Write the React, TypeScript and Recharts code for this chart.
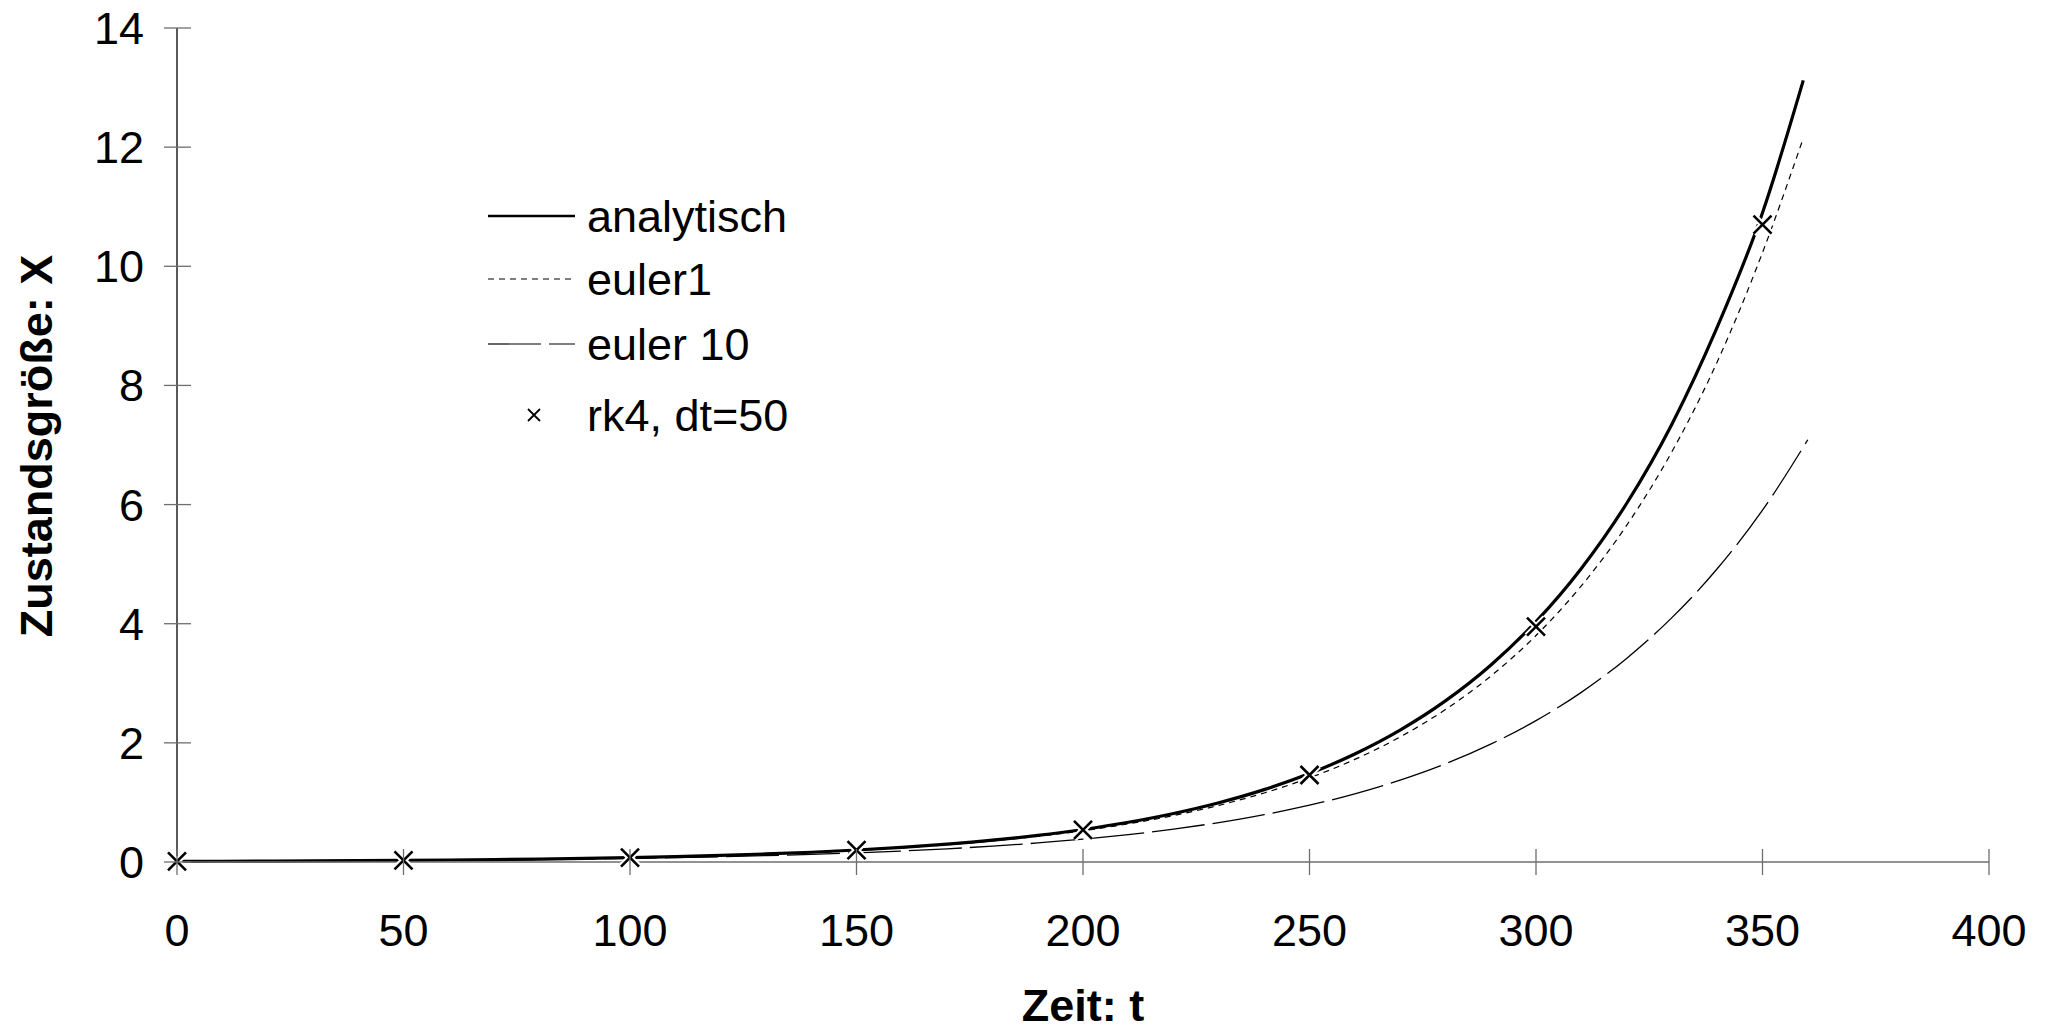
import { ComposedChart, Line, Scatter, XAxis, YAxis, Legend } from 'recharts';

const FONT = '"Liberation Sans", Arial, Helvetica, sans-serif';

// time axis of the two fine curves (they stop at t = 359)
const fineTimes = [
  0, 10, 20, 30, 40, 50, 60, 70, 80, 90, 100, 110, 120, 130, 140, 150, 160, 170,
  180, 190, 200, 210, 220, 230, 240, 250, 260, 270, 280, 290, 300, 310, 320, 330,
  340, 350, 359,
];

const analytisch = [
  0.01, 0.0122, 0.0149, 0.0182, 0.0223, 0.0272, 0.0332, 0.0406, 0.0495, 0.0605,
  0.0739, 0.0903, 0.11, 0.135, 0.164, 0.201, 0.245, 0.3, 0.366, 0.447, 0.546,
  0.667, 0.815, 0.995, 1.215, 1.484, 1.813, 2.214, 2.704, 3.303, 4.034, 4.927,
  6.018, 7.35, 8.977, 10.9, 13.12,
];

const euler1 = [
  0.01, 0.0122, 0.0149, 0.0181, 0.0221, 0.0269, 0.0328, 0.04, 0.0488, 0.0594,
  0.0725, 0.0883, 0.1077, 0.1312, 0.16, 0.195, 0.2377, 0.2898, 0.3532, 0.4306,
  0.5249, 0.6398, 0.78, 0.9508, 1.159, 1.413, 1.722, 2.099, 2.559, 3.119, 3.802,
  4.635, 5.65, 6.887, 8.395, 10.23, 12.15,
];

const euler10Times = [
  0, 10, 20, 30, 40, 50, 60, 70, 80, 90, 100, 110, 120, 130, 140, 150, 160, 170,
  180, 190, 200, 210, 220, 230, 240, 250, 260, 270, 280, 290, 300, 310, 320, 330,
  340, 350, 360,
];

const euler10 = [
  0.01, 0.012, 0.0144, 0.0173, 0.0207, 0.0249, 0.0299, 0.0358, 0.043, 0.0516,
  0.0619, 0.0743, 0.0892, 0.107, 0.1284, 0.1541, 0.1849, 0.2219, 0.2662, 0.3195,
  0.3834, 0.4601, 0.5521, 0.6625, 0.795, 0.954, 1.145, 1.374, 1.648, 1.978,
  2.374, 2.848, 3.418, 4.102, 4.922, 5.906, 7.088,
];

const rk4Times = [0, 50, 100, 150, 200, 250, 300, 350];
const rk4 = [0.01, 0.027, 0.073, 0.2, 0.54, 1.46, 3.95, 10.7];

const xTicks = [0, 50, 100, 150, 200, 250, 300, 350, 400];
const yTicks = [0, 2, 4, 6, 8, 10, 12, 14];

const toPoints = (ts: number[], vs: number[]) => ts.map((t, i) => ({ t, v: vs[i] }));

const analytischData = toPoints(fineTimes, analytisch);
const euler1Data = toPoints(fineTimes, euler1);
const euler10Data = toPoints(euler10Times, euler10);
const rk4Data = toPoints(rk4Times, rk4);

const TICK_GREY = '#6e6e6e';

function YTick(props: any) {
  const { x, y, payload } = props;
  return (
    <g>
      <line x1={x - 13} x2={x + 14} y1={y} y2={y} stroke={TICK_GREY} strokeWidth={1.3} />
      <text x={x - 33} y={y + 16} textAnchor="end" fontSize={45} fontFamily={FONT} fill="#000">
        {payload.value}
      </text>
    </g>
  );
}

function XTick(props: any) {
  const { x, y, payload } = props;
  return (
    <g>
      <line x1={x} x2={x} y1={y - 13} y2={y + 13} stroke={TICK_GREY} strokeWidth={1.3} />
      <text x={x} y={y + 84} textAnchor="middle" fontSize={45} fontFamily={FONT} fill="#000">
        {payload.value}
      </text>
    </g>
  );
}

function XTitle(props: any) {
  const vb = props.viewBox || { x: 177, y: 862, width: 1812, height: 169 };
  return (
    <text
      x={vb.x + vb.width / 2}
      y={vb.y + 159}
      textAnchor="middle"
      fontSize={45}
      fontWeight="bold"
      fontFamily={FONT}
      fill="#000"
    >
      Zeit: t
    </text>
  );
}

function YTitle(props: any) {
  const vb = props.viewBox || { x: 0, y: 28, width: 177, height: 834 };
  const cx = vb.x + 52;
  const cy = vb.y + vb.height / 2 + 1;
  return (
    <text
      x={cx}
      y={cy}
      transform={`rotate(-90 ${cx} ${cy})`}
      textAnchor="middle"
      fontSize={45}
      fontWeight="bold"
      fontFamily={FONT}
      fill="#000"
    >
      Zustandsgröße: X
    </text>
  );
}

// x marker with a thin white halo, like the original
function CrossMark(props: any) {
  const { cx, cy } = props;
  if (cx == null || cy == null) return null;
  const s = 9;
  const d = `M${cx - s},${cy - s}L${cx + s},${cy + s}M${cx - s},${cy + s}L${cx + s},${cy - s}`;
  return (
    <g>
      <path d={d} stroke="#fff" strokeWidth={6.5} />
      <path d={d} stroke="#000" strokeWidth={2.6} />
    </g>
  );
}

const legendRows = [
  { label: 'analytisch', cy: 28, dash: undefined as string | undefined, width: 2.6, marker: false },
  { label: 'euler1', cy: 91, dash: '6 5', width: 1.2, marker: false },
  { label: 'euler 10', cy: 156, dash: '53 8', width: 1.2, marker: false },
  { label: 'rk4, dt=50', cy: 227, dash: undefined, width: 0, marker: true },
];

function renderLegend() {
  return (
    <svg width={420} height={270} style={{ display: 'block' }}>
      {legendRows.map((row) => {
        const cy = row.cy;
        return (
          <g key={row.label}>
            {row.marker ? (
              <path d={`M40,${cy - 6}L52,${cy + 6}M40,${cy + 6}L52,${cy - 6}`} stroke="#000" strokeWidth={1.8} />
            ) : (
              <line x1={0} x2={87} y1={cy} y2={cy} stroke="#000" strokeWidth={row.width} strokeDasharray={row.dash} />
            )}
            <text x={99} y={cy + 16} fontSize={45} fontFamily={FONT} fill="#000">
              {row.label}
            </text>
          </g>
        );
      })}
    </svg>
  );
}

export default function App() {
  return (
    <div style={{ width: 2049, height: 1031, background: '#fff' }}>
      <style>{'body{margin:0;background:#fff}'}</style>
      <ComposedChart width={2049} height={1031} margin={{ top: 28, right: 60, bottom: 0, left: 0 }}>
        <XAxis
          dataKey="t"
          type="number"
          domain={[0, 400]}
          ticks={xTicks}
          interval={0}
          height={169}
          tickSize={0}
          tickMargin={0}
          tickLine={false}
          axisLine={{ stroke: TICK_GREY, strokeWidth: 1.5 }}
          tick={<XTick />}
          label={<XTitle />}
        />
        <YAxis
          type="number"
          domain={[0, 14]}
          ticks={yTicks}
          interval={0}
          width={177}
          tickSize={0}
          tickMargin={0}
          tickLine={false}
          axisLine={{ stroke: '#000', strokeWidth: 1.3 }}
          tick={<YTick />}
          label={<YTitle />}
        />
        <Legend
          layout="vertical"
          align="center"
          verticalAlign="middle"
          content={renderLegend}
          wrapperStyle={{ position: 'absolute', left: 488, top: 188, width: 420, height: 270 }}
        />
        <Line
          data={euler10Data}
          dataKey="v"
          name="euler 10"
          type="monotone"
          stroke="#000"
          strokeWidth={1.3}
          strokeDasharray="53 8"
          dot={false}
          activeDot={false}
          isAnimationActive={false}
        />
        <Line
          data={euler1Data}
          dataKey="v"
          name="euler1"
          type="monotone"
          stroke="#000"
          strokeWidth={1.2}
          strokeDasharray="6 5"
          dot={false}
          activeDot={false}
          isAnimationActive={false}
        />
        <Line
          data={analytischData}
          dataKey="v"
          name="analytisch"
          type="monotone"
          stroke="#000"
          strokeWidth={3.2}
          dot={false}
          activeDot={false}
          isAnimationActive={false}
        />
        <Scatter
          data={rk4Data}
          dataKey="v"
          name="rk4, dt=50"
          shape={<CrossMark />}
          isAnimationActive={false}
        />
      </ComposedChart>
    </div>
  );
}
